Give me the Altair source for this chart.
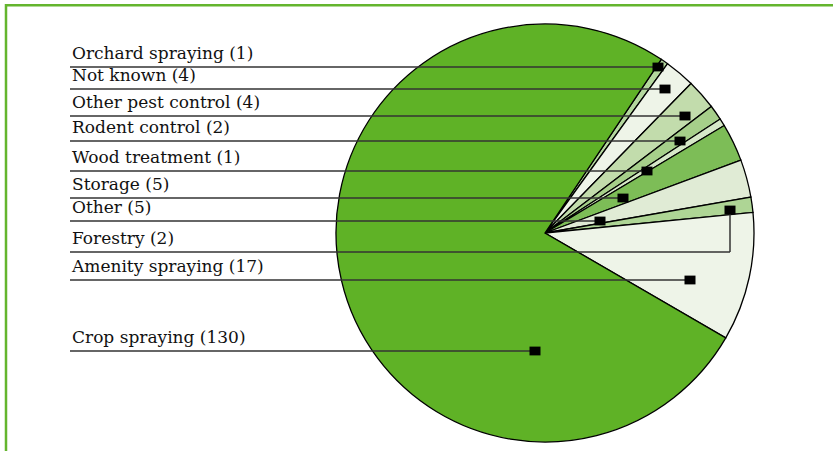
import math
import altair as alt
import pandas as pd

# ---- data ----
categories = ["Orchard spraying", "Not known", "Other pest control", "Rodent control",
              "Wood treatment", "Storage", "Other", "Forestry", "Amenity spraying",
              "Crop spraying"]
counts = [1, 4, 4, 2, 1, 5, 5, 2, 17, 130]
slice_colors = ["#b4d79e", "#eef4e8", "#c2dcac", "#a6cf8a", "#d6e8c8",
                "#7dbd57", "#e0ebd5", "#aed595", "#eef4e8", "#5fb226"]

# annotation layout (canvas coordinates, px from top-left)
label_line_y = [67, 89, 116, 141, 171, 198, 221, 252, 280, 351]
marker_x = [658, 665, 685, 680, 647, 623, 600, 730, 690, 535]
marker_y = [67, 89, 116, 141, 171, 198, 221, 210, 280, 351]

W, H = 833, 451
CX, CY, R = 545, 233, 209
START = math.radians(33.8)
LABEL_X = 70

pie_df = pd.DataFrame({"cat": categories, "value": counts, "idx": list(range(len(counts)))})

lab_df = pd.DataFrame({
    "text": [f"{c} ({v})" for c, v in zip(categories, counts)],
    "x": [LABEL_X + 2] * len(categories),
    "y": label_line_y,
})

segs = []
for ly, mx, my in zip(label_line_y, marker_x, marker_y):
    segs.append({"x": LABEL_X, "x2": mx, "y": ly, "y2": ly})
    if my != ly:
        segs.append({"x": mx, "x2": mx, "y": ly, "y2": my})
seg_df = pd.DataFrame(segs)

mk_df = pd.DataFrame({"x": marker_x, "y": marker_y})

xs = alt.Scale(domain=[0, W], nice=False, zero=False)
ys = alt.Scale(domain=[0, H], nice=False, zero=False, reverse=True)

pie = alt.Chart(pie_df).mark_arc(radius=R, stroke="#000000", strokeWidth=1.3).encode(
    theta=alt.Theta("value:Q", stack=True,
                    scale=alt.Scale(range=[START, START + 2 * math.pi])),
    order=alt.Order("idx:Q"),
    color=alt.Color("cat:N", scale=alt.Scale(domain=categories, range=slice_colors), legend=None),
    x=alt.value(CX),
    y=alt.value(CY),
)

lines = alt.Chart(seg_df).mark_rule(color="#333333", strokeWidth=1.5).encode(
    x=alt.X("x:Q", scale=xs, axis=None),
    x2="x2:Q",
    y=alt.Y("y:Q", scale=ys, axis=None),
    y2="y2:Q",
)

markers = alt.Chart(mk_df).mark_point(
    shape="M-1,-0.8L1,-0.8L1,0.8L-1,0.8Z", size=121, filled=True,
    fill="#000000", stroke=None, opacity=1,
).encode(
    x=alt.X("x:Q", scale=xs, axis=None),
    y=alt.Y("y:Q", scale=ys, axis=None),
)

labels = alt.Chart(lab_df).mark_text(
    align="left", baseline="alphabetic", dy=-8, font="DejaVu Serif",
    fontSize=17, color="#111111",
).encode(
    x=alt.X("x:Q", scale=xs, axis=None),
    y=alt.Y("y:Q", scale=ys, axis=None),
    text="text:N",
)

frame_top = alt.Chart(pd.DataFrame({"a": [0]})).mark_rule(color="#64b52e", strokeWidth=2.5).encode(
    x=alt.value(5), x2=alt.value(W), y=alt.value(5.3))
frame_left = alt.Chart(pd.DataFrame({"a": [0]})).mark_rule(color="#64b52e", strokeWidth=2.5).encode(
    x=alt.value(6), y=alt.value(4), y2=alt.value(H))

chart = alt.layer(pie, lines, markers, labels, frame_top, frame_left).properties(
    width=W, height=H, autosize=alt.AutoSizeParams(type="none"), padding=0,
    background="#ffffff",
).configure_view(stroke=None)

chart.save("out.html", embed_options={"renderer": "svg", "actions": False})
